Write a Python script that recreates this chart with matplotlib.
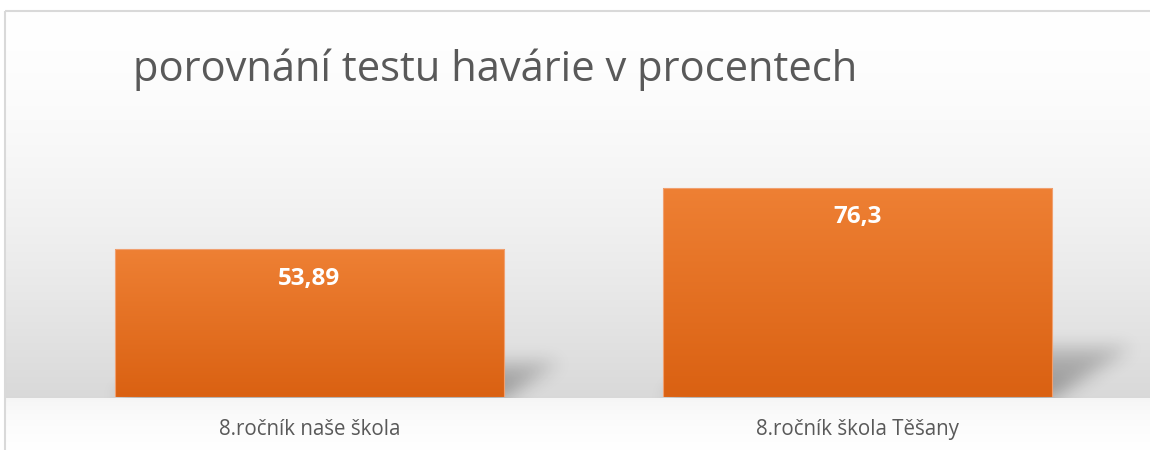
import numpy as np
import matplotlib
matplotlib.use("Agg")
import matplotlib.pyplot as plt
from matplotlib.patches import Rectangle

# data
categories = ["8.ročník naše škola", "8.ročník škola Těšany"]
values = [53.89, 76.3]
value_labels = ["53,89", "76,3"]
title = "porovnání testu havárie v procentech"

W, H = 1150, 450
fig = plt.figure(figsize=(W / 100, H / 100), dpi=100)
fig.patch.set_facecolor("white")

# background axes in pixel coordinates (y down)
bg = fig.add_axes([0, 0, 1, 1], zorder=0)
bg.set_xlim(0, W)
bg.set_ylim(H, 0)
bg.axis("off")

# main axes for the bars
ax = fig.add_axes([35 / W, 53 / H, 1097 / W, 247 / H], zorder=2)
ax.set_xlim(-0.5, 1.5)
ax.set_ylim(0, 90)
ax.patch.set_alpha(0)
for s in ax.spines.values():
    s.set_visible(False)
ax.set_yticks([])
ax.set_xticks(range(len(categories)))
ax.set_xticklabels(categories, family="Open Sans", fontsize=14.8, color="#595959")
ax.tick_params(axis="x", length=0, pad=16)

# baseline pixel row from the axes transform
base_px = H - ax.transData.transform((0, 0))[1]
top_px = 11

# background gradient: white -> light grey down to baseline, then a pale floor
rows = np.arange(H)
grey = np.ones(H)
t = np.clip((rows - top_px) / (base_px - top_px), 0, 1)
grey = np.where(rows <= base_px, 1.0 - 0.15 * t ** 1.6, grey)
f = np.clip((rows - base_px) / (H - base_px), 0, 1)
grey = np.where(rows > base_px, 0.955 + 0.045 * np.sqrt(f), grey)
grey[:top_px] = 1.0
img = np.repeat(grey[:, None], W, axis=1)
img[:, :5] = 1.0
bg.imshow(np.dstack([img, img, img]), extent=(0, W, H, 0), aspect="auto",
          interpolation="bilinear", zorder=0)

# chart frame
bg.add_patch(Rectangle((5, top_px), W + 10, H + 10, fill=False,
                       edgecolor="#d9d9d9", linewidth=1.5, zorder=1))

# shadows behind bars (projected onto the floor, blurred)
width = 0.71
yy, xx = np.mgrid[0:H, 0:W]
mask = np.zeros((H, W))
for i, v in enumerate(values):
    x0, y0 = ax.transData.transform((i - width / 2, 0))
    x1, y1 = ax.transData.transform((i + width / 2, v))
    hpx = y1 - y0
    dx, dy = 0.38 * hpx, 0.24 * hpx
    u = (base_px - yy) / dy
    shift = u * dx
    inside = (u >= 0) & (u <= 1) & (xx >= x0 + shift) & (xx <= x1 + shift)
    mask = np.maximum(mask, inside * (1 - 0.5 * np.clip(u, 0, 1)))


def box_blur(a, r):
    k = np.ones(2 * r + 1) / (2 * r + 1)
    a = np.apply_along_axis(lambda m: np.convolve(m, k, mode="same"), 0, a)
    a = np.apply_along_axis(lambda m: np.convolve(m, k, mode="same"), 1, a)
    return a


for _ in range(3):
    mask = box_blur(mask, 8)
mask[yy > base_px] = 0
shadow = np.zeros((H, W, 4))
shadow[..., 3] = mask * 0.34
bg.imshow(shadow, extent=(0, W, H, 0), aspect="auto", zorder=2)

# bars with vertical orange gradient
grad = np.linspace(0, 1, 256)[:, None]
c_top = np.array([238, 128, 52]) / 255
c_bot = np.array([218, 97, 18]) / 255
bar_img = c_top[None, None, :] * (1 - grad[..., None]) + c_bot[None, None, :] * grad[..., None]
bars = ax.bar(range(len(values)), values, width=width, color="none",
              edgecolor="#f0a070", linewidth=0.8, zorder=3)
for b, lab in zip(bars, value_labels):
    x, y = b.get_x(), b.get_y()
    w, h = b.get_width(), b.get_height()
    im = ax.imshow(bar_img, extent=(x, x + w, y, y + h), aspect="auto",
                   zorder=2, origin="upper")
    im.set_clip_path(b)
    ax.annotate(lab, (x + w / 2, y + h), xytext=(0, -21.5), textcoords="offset points",
                ha="center", va="center", color="white", fontsize=17.5,
                fontweight="bold", family="Open Sans", zorder=4)
ax.set_xlim(-0.5, 1.5)
ax.set_ylim(0, 90)

fig.text(133 / W, 1 - 70 / H, title, family="Open Sans", fontsize=30,
         color="#595959", ha="left", va="center", zorder=5)

fig.savefig("out.png", dpi=100)
